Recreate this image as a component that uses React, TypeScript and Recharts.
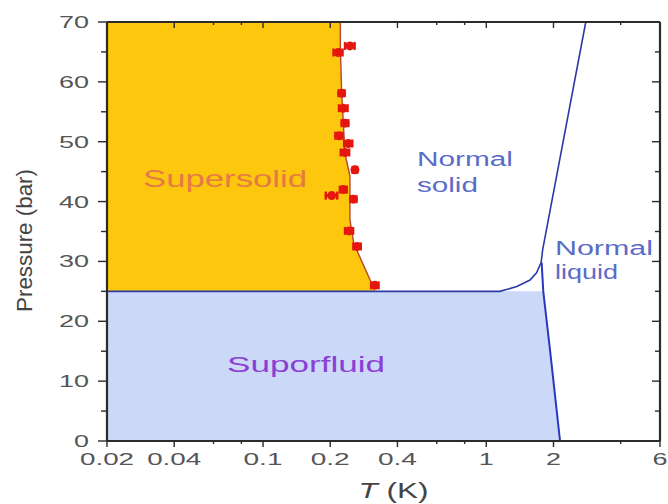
import React from 'react'
import { ComposedChart, Area, Line, Scatter, ErrorBar, XAxis, YAxis, ReferenceDot, ReferenceLine } from 'recharts'

// supersolid onset points (T in K, P in bar, horizontal error in K)
const onsetPoints = [
  { T: 0.245, P: 66.0, err: 0.012 },
  { T: 0.217, P: 64.9, err: 0.01 },
  { T: 0.225, P: 58.1, err: 0.007 },
  { T: 0.229, P: 55.6, err: 0.01 },
  { T: 0.233, P: 53.1, err: 0.008 },
  { T: 0.219, P: 51.0, err: 0.008 },
  { T: 0.241, P: 49.7, err: 0.01 },
  { T: 0.233, P: 48.2, err: 0.01 },
  { T: 0.258, P: 45.3, err: 0.006 },
  { T: 0.229, P: 42.0, err: 0.008 },
  { T: 0.203, P: 41.0, err: 0.012 },
  { T: 0.254, P: 40.4, err: 0.008 },
  { T: 0.243, P: 35.1, err: 0.01 },
  { T: 0.264, P: 32.5, err: 0.01 },
  { T: 0.317, P: 26.0, err: 0.012 },
]

// line through the onset points
const onsetLine = [
  { T: 0.222, P: 70 },
  { T: 0.222, P: 66 },
  { T: 0.225, P: 58 },
  { T: 0.233, P: 48 },
  { T: 0.245, P: 44.3 },
  { T: 0.245, P: 37 },
  { T: 0.255, P: 33 },
  { T: 0.306, P: 26.4 },
  { T: 0.317, P: 26 },
]

// melting curve
const meltingCurve = [
  { T: 0.02, P: 25 },
  { T: 1.15, P: 25 },
  { T: 1.37, P: 25.8 },
  { T: 1.57, P: 26.9 },
  { T: 1.68, P: 28.1 },
  { T: 1.76, P: 29.8 },
  { T: 1.79, P: 32 },
  { T: 2.79, P: 70 },
]

// lambda line
const lambdaLine = [
  { T: 1.77, P: 29.8 },
  { T: 1.8, P: 25 },
  { T: 1.93, P: 15.2 },
  { T: 2.14, P: 0 },
]

const xTicks = [0.02, 0.04, 0.06, 0.08, 0.1, 0.2, 0.4, 0.6, 0.8, 1, 2, 4, 6]
const xLabels = [0.02, 0.04, 0.1, 0.2, 0.4, 1, 2, 6]
const yTicks = [0, 5, 10, 15, 20, 25, 30, 35, 40, 45, 50, 55, 60, 65, 70]
const yLabels = [0, 10, 20, 30, 40, 50, 60, 70]

const supersolidArea = [
  { T: 0.02, P: [25, 70] },
  ...onsetLine.map((d) => ({ T: d.T, P: [25, d.P] })),
  { T: 0.317, P: [25, 25] },
]
const superfluidArea = [{ T: 0.02, P: 25 }, ...lambdaLine.filter((d) => d.P <= 25)]

const axisColor = '#2b2b2b'
const tickText = '#555'
const font = '"Liberation Sans", Arial, sans-serif'

const labelWidth = (s: string) => s.replace('.', '').length * 15 + (s.includes('.') ? 9 : 0)

const BottomTick = ({ x, y, payload }: any) => {
  const v = payload.value
  const major = xLabels.includes(v)
  const s = String(v)
  return (
    <g>
      <line x1={x} x2={x} y1={y} y2={y + (major ? 6 : 3)} stroke={axisColor} strokeWidth={1.4} />
      {major && (
        <text x={x} y={y + 24} textAnchor="middle" fontSize={17} fill={tickText} fontFamily={font}
          textLength={labelWidth(s)} lengthAdjust="spacingAndGlyphs">{s}</text>
      )}
    </g>
  )
}

const LeftTick = ({ x, y, payload }: any) => {
  const v = payload.value
  const major = yLabels.includes(v)
  const s = String(v)
  return (
    <g>
      <line x1={x - (major ? 9 : 6)} x2={x} y1={y} y2={y} stroke={axisColor} strokeWidth={1.4} />
      {major && (
        <text x={x - 18} y={y + 6} textAnchor="end" fontSize={17} fill={tickText} fontFamily={font}
          textLength={labelWidth(s)} lengthAdjust="spacingAndGlyphs">{s}</text>
      )}
    </g>
  )
}

// inward ticks on the top and right frame
const topTick = (major: boolean) => ({ cx, cy }: any) =>
  <line x1={cx} x2={cx} y1={cy} y2={cy + (major ? 6 : 3)} stroke={axisColor} strokeWidth={1.4} />
const rightTick = (major: boolean) => ({ cx, cy }: any) =>
  <line x1={cx - (major ? 8 : 5)} x2={cx} y1={cy} y2={cy} stroke={axisColor} strokeWidth={1.4} />

const XTitle = ({ viewBox }: any) => (
  <text x={viewBox.x + viewBox.width / 2 + 10} y={viewBox.y + 57} textAnchor="middle" fontSize={22}
    fill="#444" fontFamily={font} textLength={70} lengthAdjust="spacingAndGlyphs">
    <tspan fontStyle="italic">T</tspan> (K)
  </text>
)

const YTitle = ({ viewBox }: any) => {
  const cy = viewBox.y + viewBox.height / 2 + 9
  return (
    <text x={24} y={cy} transform={`rotate(-90 24 ${cy})`} textAnchor="middle" dominantBaseline="central"
      fontSize={22} fill="#444" fontFamily={font} textLength={143} lengthAdjust="spacingAndGlyphs">
      Pressure (bar)
    </text>
  )
}

const note = (lines: { text: string; width: number }[], size: number, color: string, gap: number) =>
  (props: any) => (
    <g>
      {lines.map((l, i) => (
        <text key={l.text} x={props.cx} y={props.cy + i * gap} fontSize={size} fill={color} fontFamily={font}
          textLength={l.width} lengthAdjust="spacingAndGlyphs">{l.text}</text>
      ))}
    </g>
  )

const RedDot = ({ cx, cy }: any) => <circle cx={cx} cy={cy} r={4.5} fill="#e4160e" />

export default function App() {
  return (
    <div style={{ position: 'absolute', left: 0, top: 0, background: '#fff' }}>
      <ComposedChart width={668} height={504} margin={{ top: 22, right: 8, bottom: 0, left: 0 }}>
        <Area data={superfluidArea} dataKey="P" type="linear" fill="#cbd8f8" fillOpacity={1} stroke="none"
          baseValue={0} isAnimationActive={false} />
        <Area data={supersolidArea} dataKey="P" type="linear" fill="#fdc70e" fillOpacity={1} stroke="none"
          isAnimationActive={false} />
        <Line data={meltingCurve} dataKey="P" type="linear" stroke="#2c3aa8" strokeWidth={1.6} dot={false}
          isAnimationActive={false} />
        <Line data={lambdaLine} dataKey="P" type="linear" stroke="#2a38c0" strokeWidth={2} dot={false}
          isAnimationActive={false} />
        <Line data={onsetLine} dataKey="P" type="linear" stroke="#b8452c" strokeWidth={1.4} dot={false}
          isAnimationActive={false} />
        <Scatter data={onsetPoints} dataKey="P" shape={<RedDot />} isAnimationActive={false}>
          <ErrorBar dataKey="err" direction="x" width={4} stroke="#e4160e" strokeWidth={2.5} />
        </Scatter>
        <ReferenceDot x={0.029} y={42.4} shape={note([{ text: 'Supersolid', width: 164 }], 24, '#e57a45', 0)} />
        <ReferenceDot x={0.489} y={45.9}
          shape={note([{ text: 'Normal', width: 96 }, { text: 'solid', width: 61 }], 20, '#5b6cc8', 26)} />
        <ReferenceDot x={2.03} y={31.1}
          shape={note([{ text: 'Normal', width: 98 }, { text: 'liquid', width: 63 }], 20, '#5b6cc8', 24)} />
        <ReferenceDot x={0.069} y={11.6} shape={note([{ text: 'Suporfluid', width: 158 }], 22, '#8a40d4', 0)} />
        <ReferenceLine y={70} stroke={axisColor} strokeWidth={2.2} ifOverflow="visible" />
        <ReferenceLine x={6} stroke={axisColor} strokeWidth={2.2} ifOverflow="visible" />
        {xTicks.map((t) => (
          <ReferenceDot key={`t${t}`} x={t} y={70} ifOverflow="visible" shape={topTick(xLabels.includes(t))} />
        ))}
        {yTicks.map((p) => (
          <ReferenceDot key={`r${p}`} x={6} y={p} ifOverflow="visible" shape={rightTick(yLabels.includes(p))} />
        ))}
        <XAxis dataKey="T" type="number" scale="log" domain={[0.02, 6]} allowDataOverflow ticks={xTicks}
          interval={0} height={63} tickSize={0} tickMargin={0} tickLine={false} tick={<BottomTick />}
          axisLine={{ stroke: axisColor, strokeWidth: 2.2 }} label={XTitle} />
        <YAxis type="number" domain={[0, 70]} allowDataOverflow ticks={yTicks} interval={0} width={107}
          tickSize={0} tickMargin={0} tickLine={false} tick={<LeftTick />}
          axisLine={{ stroke: axisColor, strokeWidth: 2.2 }} label={YTitle} />
      </ComposedChart>
    </div>
  )
}
